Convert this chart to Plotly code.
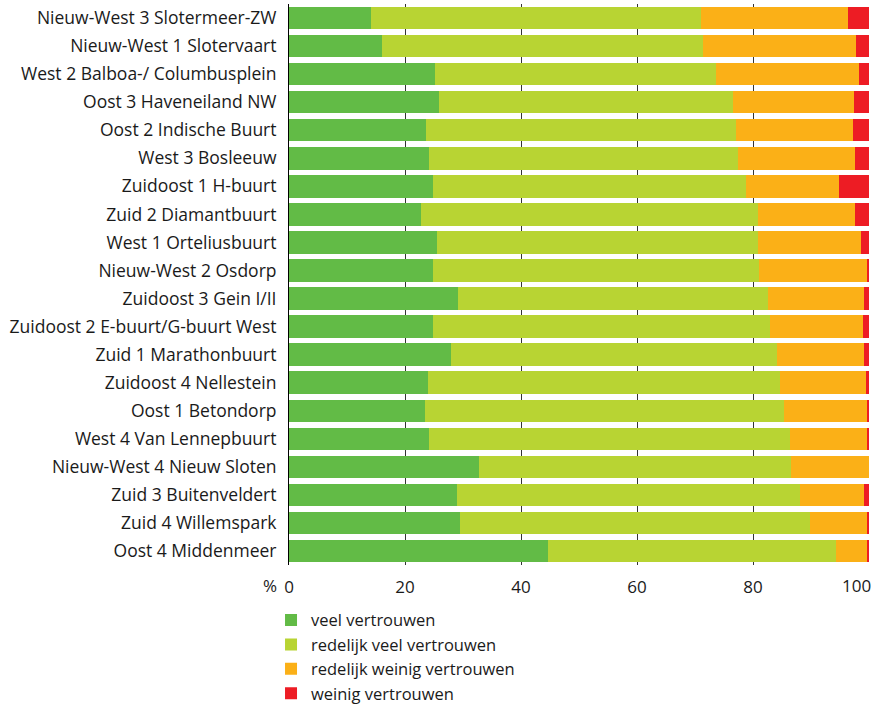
import plotly.graph_objects as go

# wijken (top to bottom as in the chart)
wijken = ['Nieuw-West 3 Slotermeer-ZW', 'Nieuw-West 1 Slotervaart', 'West 2 Balboa-/ Columbusplein',
          'Oost 3 Haveneiland NW', 'Oost 2 Indische Buurt', 'West 3 Bosleeuw', 'Zuidoost 1 H-buurt',
          'Zuid 2 Diamantbuurt', 'West 1 Orteliusbuurt', 'Nieuw-West 2 Osdorp', 'Zuidoost 3 Gein I/II',
          'Zuidoost 2 E-buurt/G-buurt West', 'Zuid 1 Marathonbuurt', 'Zuidoost 4 Nellestein',
          'Oost 1 Betondorp', 'West 4 Van Lennepbuurt', 'Nieuw-West 4 Nieuw Sloten',
          'Zuid 3 Buitenveldert', 'Zuid 4 Willemspark', 'Oost 4 Middenmeer']

veel = [14.1, 16.0, 25.1, 25.8, 23.6, 24.2, 24.8, 22.7, 25.5, 24.9,
        29.2, 24.9, 27.9, 23.9, 23.4, 24.2, 32.7, 28.9, 29.4, 44.6]
redelijk_veel = [57.0, 55.4, 48.5, 50.7, 53.4, 53.2, 54.0, 58.2, 55.4, 56.2,
                 53.4, 58.1, 56.2, 60.8, 61.9, 62.1, 53.8, 59.2, 60.4, 49.7]
redelijk_weinig = [25.2, 26.3, 24.6, 20.9, 20.2, 20.1, 16.1, 16.6, 17.8, 18.5,
                   16.6, 15.9, 15.1, 14.7, 14.3, 13.3, 13.5, 11.1, 9.9, 5.4]
weinig = [3.7, 2.3, 1.8, 2.6, 2.8, 2.5, 5.1, 2.5, 1.3, 0.4,
          0.8, 1.1, 0.8, 0.6, 0.4, 0.4, 0.0, 0.8, 0.3, 0.3]

x_ticks = [0, 20, 40, 60, 80, 100]
x_labels = ['0', '20', '40', '60', '80', '']  # 100 gezet als annotatie (rechts uitgelijnd)

series = [('veel vertrouwen', veel, '#62BB46'),
          ('redelijk veel vertrouwen', redelijk_veel, '#B8D433'),
          ('redelijk weinig vertrouwen', redelijk_weinig, '#FBB017'),
          ('weinig vertrouwen', weinig, '#ED1C24')]

font = 'Open Sans, sans-serif'
txt = '#1a1a1a'

fig = go.Figure()
for name, vals, col in series:
    fig.add_trace(go.Bar(y=wijken, x=vals, name=name, orientation='h',
                         marker=dict(color=col, line=dict(width=0))))

fig.update_layout(
    barmode='stack', bargap=0.2,
    width=879, height=707,
    margin=dict(l=289, r=10, t=4, b=142, autoexpand=False),
    plot_bgcolor='white', paper_bgcolor='white',
    font=dict(family=font, size=17.5, color=txt),
    legend=dict(orientation='v', x=-0.031, xanchor='left', yref='container', y=0.1475, yanchor='top',
                font=dict(size=16.5), traceorder='normal'),
    showlegend=True,
)
fig.update_yaxes(autorange='reversed', showgrid=False, showline=True, linecolor='#000', linewidth=1,
                 ticks='', ticklabelstandoff=8, automargin=False)
fig.update_xaxes(range=[0, 100], tickvals=x_ticks, ticktext=x_labels, showgrid=True,
                 gridcolor='#333', gridwidth=1, zeroline=False, showline=False,
                 ticks='outside', ticklen=7, tickcolor='rgba(0,0,0,0)',
                 tickfont=dict(size=17), automargin=False)
fig.add_annotation(text='%', xref='paper', yref='paper', x=0, y=0, xanchor='right', yanchor='middle',
                   xshift=-10, yshift=-20,
                   showarrow=False, font=dict(size=17, color=txt))
fig.add_annotation(text=str(x_ticks[-1]), xref='x', yref='paper', x=x_ticks[-1], y=0,
                   xanchor='right', yanchor='middle', xshift=4, yshift=-20,
                   showarrow=False, font=dict(size=17, color=txt))

fig.write_html("out.html", config={'displayModeBar': False},
               post_script="document.body.style.margin='0';")
